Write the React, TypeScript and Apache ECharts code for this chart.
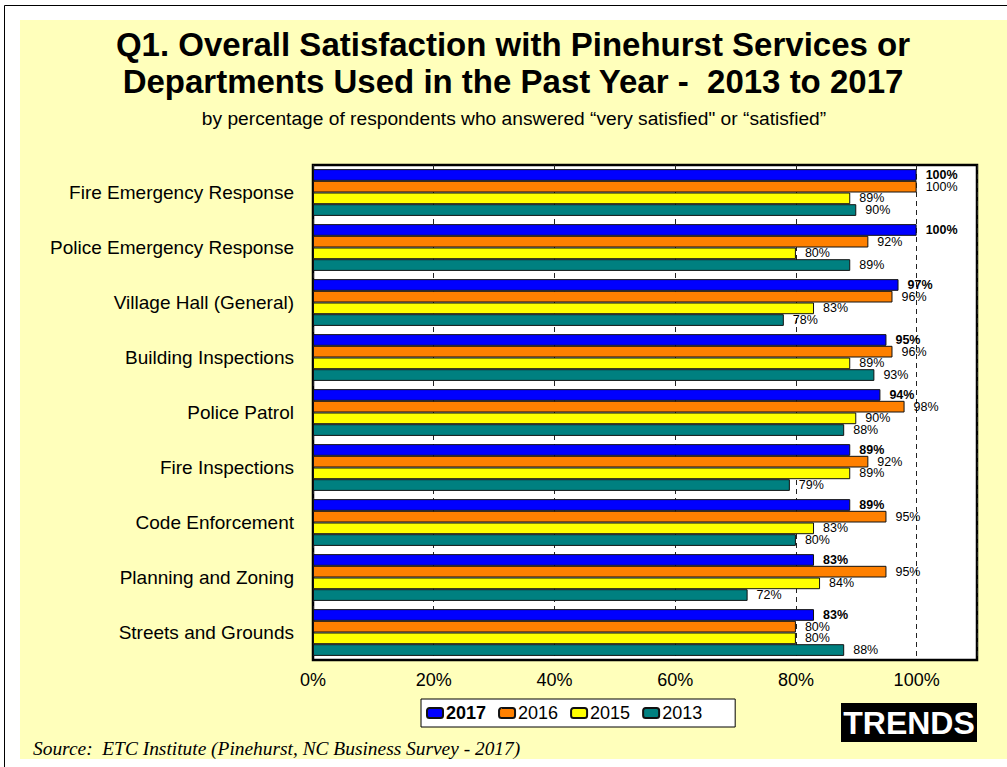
import React, { useEffect, useRef } from "react";
import * as echarts from "echarts";

const categories = [
  "Fire Emergency Response",
  "Police Emergency Response",
  "Village Hall (General)",
  "Building Inspections",
  "Police Patrol",
  "Fire Inspections",
  "Code Enforcement",
  "Planning and Zoning",
  "Streets and Grounds",
];
const years = ["2017", "2016", "2015", "2013"];
const values2017 = [100, 100, 97, 95, 94, 89, 89, 83, 83];
const values2016 = [100, 92, 96, 96, 98, 92, 95, 95, 80];
const values2015 = [89, 80, 83, 89, 90, 89, 83, 84, 80];
const values2013 = [90, 89, 78, 93, 88, 79, 80, 72, 88];
const colors = ["#0000FF", "#FF8000", "#FFFF00", "#008080"];

const titleLine1 = "Q1. Overall Satisfaction with Pinehurst Services or";
const titleLine2 = "Departments Used in the Past Year -  2013 to 2017";
const subtitle = "by percentage of respondents who answered \u201cvery satisfied\" or \u201csatisfied\u201d";
const sourceText = "Source:  ETC Institute (Pinehurst, NC Business Survey - 2017)";

const FONT = "Arial, 'Liberation Sans', sans-serif";

export default function App() {
  const ref = useRef<HTMLDivElement>(null);
  useEffect(() => {
    if (!ref.current) return;
    const chart = echarts.init(ref.current, null, { renderer: "svg" });
    const seriesValues = [values2017, values2016, values2015, values2013];
    chart.setOption({
      animation: false,
      backgroundColor: "#ffffff",
      textStyle: { fontFamily: FONT },
      grid: {
        left: 313,
        right: 30,
        top: 165,
        bottom: 107,
        show: true,
        backgroundColor: "#ffffff",
        borderColor: "#000000",
        borderWidth: 2.5,
        containLabel: false,
      },
      xAxis: {
        type: "value",
        min: 0,
        max: 110,
        interval: 20,
        axisLine: { show: false },
        axisTick: { show: false },
        axisLabel: {
          color: "#000",
          fontSize: 18,
          fontFamily: FONT,
          margin: 11,
          formatter: (v: number) => (v > 100 ? "" : v + "%"),
        },
        splitLine: {
          show: true,
          lineStyle: { color: "#222", width: 1, type: [5, 4] },
        },
      },
      yAxis: {
        type: "category",
        data: categories,
        inverse: true,
        axisLine: { show: false },
        axisTick: { show: false },
        axisLabel: {
          color: "#000",
          fontSize: 19,
          fontFamily: FONT,
          margin: 19,
        },
      },
      legend: {
        left: 421,
        top: 699,
        orient: "horizontal",
        itemWidth: 16,
        itemHeight: 10,
        itemGap: 12,
        padding: [5, 33, 5, 5],
        backgroundColor: "#ffffff",
        borderColor: "#000",
        borderWidth: 1,
        textStyle: { fontSize: 18, color: "#000", fontFamily: FONT, padding: [0, 0, 0, -2] },
        data: years.map((y, i) => ({
          name: y,
          textStyle: { fontWeight: i === 0 ? "bold" : "normal" },
        })),
      },
      series: years.map((y, i) => ({
        name: y,
        type: "bar",
        data: seriesValues[i],
        barGap: "0%",
        barCategoryGap: "15%",
        itemStyle: { color: colors[i], borderColor: "#111", borderWidth: 1 },
        label: {
          show: true,
          position: "right",
          distance: 9,
          formatter: "{c}%",
          color: "#000",
          fontSize: 12.5,
          fontFamily: FONT,
          fontWeight: i === 0 ? "bold" : "normal",
        },
      })),
      graphic: [
        {
          type: "rect",
          z: -10,
          silent: true,
          shape: { x: 4.5, y: 5.5, width: 1200, height: 1200 },
          style: { fill: "#ffffff", stroke: "#000", lineWidth: 1 },
        },
        {
          type: "rect",
          z: -9,
          silent: true,
          shape: { x: 20, y: 20, width: 1200, height: 739 },
          style: { fill: "#FFFFBB" },
        },
        {
          type: "text",
          x: 513,
          y: 44,
          style: {
            text: titleLine1,
            fontSize: 33,
            fontWeight: "bold",
            fontFamily: FONT,
            fill: "#000",
            align: "center",
            verticalAlign: "middle",
          },
        },
        {
          type: "text",
          x: 513,
          y: 81,
          style: {
            text: titleLine2,
            fontSize: 33,
            fontWeight: "bold",
            fontFamily: FONT,
            fill: "#000",
            align: "center",
            verticalAlign: "middle",
          },
        },
        {
          type: "text",
          x: 514,
          y: 118,
          style: {
            text: subtitle,
            fontSize: 19.2,
            fontFamily: FONT,
            fill: "#000",
            align: "center",
            verticalAlign: "middle",
          },
        },
        {
          type: "text",
          x: 33,
          y: 748,
          style: {
            text: sourceText,
            fontSize: 19.4,
            fontStyle: "italic",
            fontFamily: "'Times New Roman', 'Liberation Serif', serif",
            fill: "#000",
            align: "left",
            verticalAlign: "middle",
          },
        },
        {
          type: "rect",
          z: 50,
          shape: { x: 841, y: 703, width: 136, height: 39 },
          style: { fill: "#000" },
        },
        {
          type: "text",
          z: 51,
          x: 909,
          y: 723,
          style: {
            text: "TRENDS",
            fontSize: 32,
            fontWeight: "bold",
            fontFamily: FONT,
            fill: "#fff",
            align: "center",
            verticalAlign: "middle",
          },
        },
      ],
    });
    return () => chart.dispose();
  }, []);
  return (
    <div
      ref={ref}
      style={{ position: "fixed", left: 0, top: 0, width: 1007, height: 767 }}
    />
  );
}
